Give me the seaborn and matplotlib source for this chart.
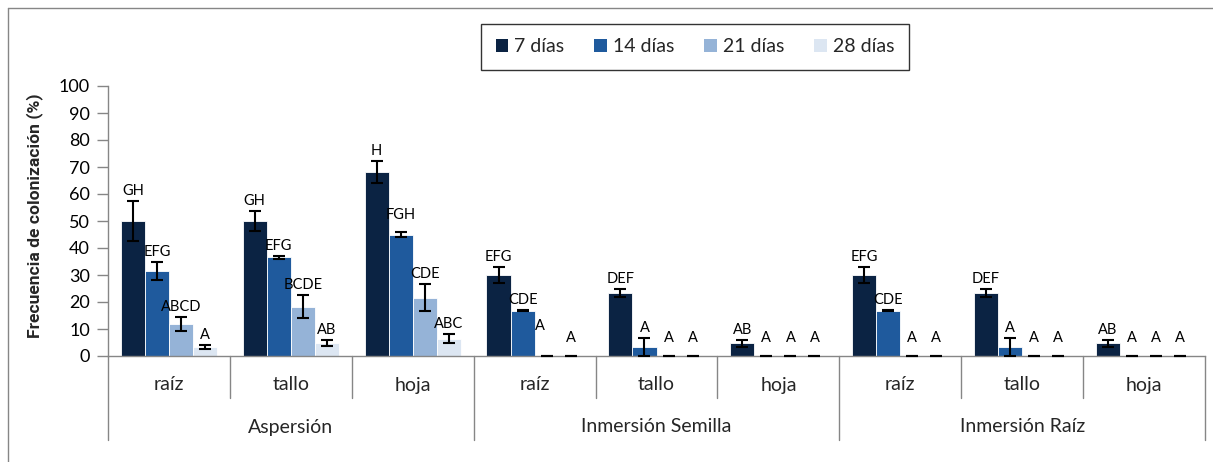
import numpy as np
import pandas as pd
import matplotlib
matplotlib.use("Agg")
import matplotlib.pyplot as plt
import seaborn as sns
from matplotlib.patches import Patch
from matplotlib.lines import Line2D

# ---------------- data ----------------
methods = ["Aspersión", "Inmersión Semilla", "Inmersión Raíz"]
organs = ["raíz", "tallo", "hoja"]
days = ["7 días", "14 días", "21 días", "28 días"]

mean_7 = [50.0, 50.0, 68.0, 30.0, 23.3, 4.7, 30.0, 23.3, 4.7]
err_7 = [7.5, 3.8, 4.1, 3.0, 1.6, 1.2, 3.0, 1.6, 1.2]
mean_14 = [31.5, 36.5, 45.0, 16.7, 3.3, 0.0, 16.7, 3.3, 0.0]
err_14 = [3.3, 0.7, 0.9, 0.2, 3.3, 0.0, 0.2, 3.3, 0.0]
mean_21 = [11.7, 18.3, 21.5, 0.0, 0.0, 0.0, 0.0, 0.0, 0.0]
err_21 = [2.6, 4.2, 5.0, 0.0, 0.0, 0.0, 0.0, 0.0, 0.0]
mean_28 = [3.3, 4.8, 6.4, 0.0, 0.0, 0.0, 0.0, 0.0, 0.0]
err_28 = [0.8, 1.2, 1.6, 0.0, 0.0, 0.0, 0.0, 0.0, 0.0]

letters_7 = ["GH", "GH", "H", "EFG", "DEF", "AB", "EFG", "DEF", "AB"]
letters_14 = ["EFG", "EFG", "FGH", "CDE", "A", "A", "CDE", "A", "A"]
letters_21 = ["ABCD", "BCDE", "CDE", "A", "A", "A", "A", "A", "A"]
letters_28 = ["A", "AB", "ABC", "A", "A", "A", "A", "A", "A"]

colors = ["#0B2343", "#1F5A9D", "#95B3D7", "#DCE6F2"]

# ---------------- setup ----------------
sns.set_theme(style="white")
plt.rcParams['font.family'] = ['Lato', 'DejaVu Sans']

cats = [f"{m}|{o}" for m in methods for o in organs]
means = dict(zip(days, [mean_7, mean_14, mean_21, mean_28]))
errs = dict(zip(days, [err_7, err_14, err_21, err_28]))
letters = dict(zip(days, [letters_7, letters_14, letters_21, letters_28]))

rows = []
for d in days:
    for i, c in enumerate(cats):
        rows.append(dict(cat=c, day=d, value=means[d][i]))
df = pd.DataFrame(rows)

W, H = 1213, 462
fig = plt.figure(figsize=(W / 100, H / 100), dpi=100)
ax = fig.add_axes([108 / W, 106 / H, 1097 / W, 270 / H])

sns.barplot(data=df, x="cat", y="value", hue="day", order=cats, hue_order=days,
            palette=colors, saturation=1, width=0.79, errorbar=None, legend=False,
            edgecolor="white", linewidth=0.6, ax=ax)

ax.set_xlim(-0.5, 8.5)
ax.set_ylim(0, 100)
ax.set_yticks(range(0, 101, 10))
ax.set_xticks([])
ax.set_xlabel("")
ax.set_ylabel("")
ax.tick_params(axis='y', direction='out', length=8, width=1, color='#868686',
               labelsize=13, pad=5, left=True, labelcolor='black')
for s in ['top', 'right']:
    ax.spines[s].set_visible(False)
for s in ['left', 'bottom']:
    ax.spines[s].set_color('#868686')
    ax.spines[s].set_linewidth(1)

# error bars + letters
nudges = {(1, 2): (0, 5), (2, 3): (-5, 9)}
for k, (d, cont) in enumerate(zip(days, ax.containers)):
    for bar in cont:
        xc = bar.get_x() + bar.get_width() / 2
        i = int(round(xc))
        m, e = means[d][i], errs[d][i]
        eb = ax.errorbar([xc], [m], yerr=[e], fmt='none', ecolor='black',
                         elinewidth=1.5, capsize=4.5, capthick=1.5, zorder=4)
        for art in eb.get_children():
            art.set_clip_on(False)
        dx, dy = nudges.get((k, i), (0, 0))
        base = 4.3 if m > 0 else 10
        ax.annotate(letters[d][i], xy=(xc, m + e), xytext=(dx, base + dy),
                    textcoords='offset points', ha='center', va='baseline',
                    fontsize=10.5, color='black', zorder=5)

# multi-level category axis
trans = ax.get_xaxis_transform()
short_d, long_d = -42 / 270, -84 / 270
for b in [0.5, 1.5, 3.5, 4.5, 6.5, 7.5]:
    ax.plot([b, b], [0, short_d], transform=trans, clip_on=False,
            color='#868686', lw=1)
for b in [-0.5, 2.5, 5.5, 8.5]:
    ax.plot([b, b], [0, long_d], transform=trans, clip_on=False,
            color='#868686', lw=1)
for g, m in enumerate(methods):
    for j, o in enumerate(organs):
        ax.text(3 * g + j, -29 / 270, o, transform=trans, ha='center',
                va='center', fontsize=14)
    ax.text(3 * g + 1, -71 / 270, m, transform=trans, ha='center',
            va='center', fontsize=14)

fig.text(35 / W, 1 - 216 / H, "Frecuencia de colonización (%)", rotation=90,
         ha='center', va='center', fontsize=12.6, fontweight='bold',
         family=['Roboto', 'DejaVu Sans'])

handles = [Patch(facecolor=c, edgecolor='none', label=d) for c, d in zip(colors, days)]
leg = fig.legend(handles=handles, loc='center', bbox_to_anchor=(695 / W, 1 - 47 / H),
                 ncol=4, frameon=True, fontsize=14, handlelength=0.65, handleheight=0.65,
                 handletextpad=0.3, columnspacing=1.55, borderpad=0.75, fancybox=False,
                 edgecolor='black')
leg.get_frame().set_linewidth(1.0)

fig.add_artist(Line2D([8 / W, 8 / W], [0, 1 - 8 / H], transform=fig.transFigure,
                      color='#868686', lw=1))
fig.add_artist(Line2D([8 / W, 1], [1 - 8 / H, 1 - 8 / H], transform=fig.transFigure,
                      color='#868686', lw=1))

fig.savefig("out.png", dpi=100)
